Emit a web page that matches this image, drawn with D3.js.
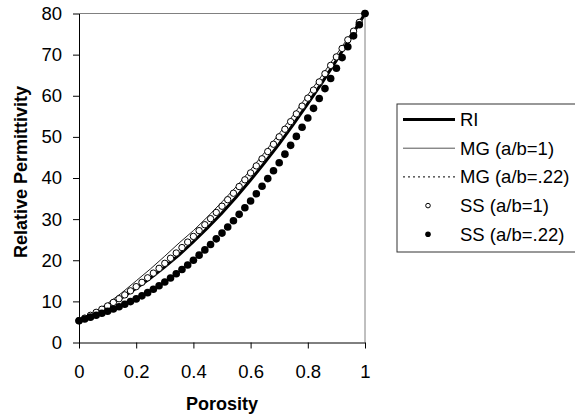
<!DOCTYPE html>
<html><head><meta charset="utf-8">
<script src="https://cdn.jsdelivr.net/npm/d3@7"></script>
<style>
body{margin:0;background:#fff;}
text{font-family:"Liberation Sans",Arial,sans-serif;}
</style></head>
<body><svg id="c" width="575" height="420"></svg>
<script>
// Data
const xTicks = [0, 0.2, 0.4, 0.6, 0.8, 1];
const xTickLabels = ["0", "0.2", "0.4", "0.6", "0.8", "1"];
const yTicks = [0, 10, 20, 30, 40, 50, 60, 70, 80];

// lines sampled every 0.05 porosity
const linePorosity = [0,0.05,0.1,0.15,0.2,0.25,0.3,0.35,0.4,0.45,0.5,0.55,0.6,0.65,0.7,0.75,0.8,0.85,0.9,0.95,1];
const RI = [5.3,6.9,8.8,10.9,13.2,15.7,18.4,21.3,24.5,27.9,31.5,35.4,39.5,43.8,48.3,53.1,58.1,63.2,68.6,74.2,80];
const MG1 = [5.3,7.2,9.5,12.1,15.0,17.9,21.0,24.2,27.2,30.6,34.2,37.9,42.0,46.3,50.8,55.4,60.2,65.0,70.0,75.0,80];
const MG022 = [5.3,6.9,8.8,10.8,13.1,15.6,18.3,21.2,24.4,27.8,31.4,35.3,39.4,43.7,48.2,53.0,58.0,63.1,68.5,74.1,80];

// markers sampled every 0.02 porosity
const markerPorosity = [0,0.02,0.04,0.06,0.08,0.1,0.12,0.14,0.16,0.18,0.2,0.22,0.24,0.26,0.28,0.3,0.32,0.34,0.36,0.38,0.4,0.42,0.44,0.46,0.48,0.5,0.52,0.54,0.56,0.58,0.6,0.62,0.64,0.66,0.68,0.7,0.72,0.74,0.76,0.78,0.8,0.82,0.84,0.86,0.88,0.9,0.92,0.94,0.96,0.98,1];
const SS1 = [5.3,5.93,6.61,7.33,8.09,8.89,9.75,10.65,11.58,12.56,13.58,14.63,15.73,16.87,18.03,19.25,20.49,21.76,23.08,24.42,25.79,27.2,28.64,30.11,31.62,33.14,34.72,36.3,37.92,39.56,41.24,42.94,44.67,46.43,48.21,50.02,51.85,53.7,55.59,57.49,59.42,61.38,63.36,65.36,67.38,69.44,71.5,73.6,75.7,77.85,80];
const SS022 = [5.3,5.72,6.16,6.62,7.1,7.6,8.14,8.71,9.31,9.94,10.6,11.34,12.12,12.94,13.8,14.7,15.68,16.7,17.76,18.86,20.0,21.24,22.52,23.84,25.2,26.6,28.08,29.6,31.16,32.76,34.4,36.18,38.0,39.86,41.76,43.7,45.8,47.94,50.12,52.34,54.6,56.94,59.32,61.74,64.2,66.7,69.28,71.9,74.56,77.26,80.0];

const legendLabels = ["RI", "MG (a/b=1)", "MG (a/b=.22)", "SS (a/b=1)", "SS (a/b=.22)"];

const svg = d3.select("#c");
const L = 79, R = 365, T = 13.5, B = 342.5;
const x = d3.scaleLinear().domain([0,1]).range([L,R]);
const y = d3.scaleLinear().domain([0,80]).range([B,T]);

// plot frame (top/right gray)
svg.append("path").attr("d",`M${L},${T}H${R}V${B}`).attr("fill","none").attr("stroke","#808080").attr("stroke-width",1);

const fs = "18.5px";
const xAxis = svg.append("g").attr("transform",`translate(0,${B})`)
  .call(d3.axisBottom(x).tickValues(xTicks).tickFormat((d,i)=>xTickLabels[i]).tickSize(6).tickPadding(16.5).tickSizeOuter(0));
const yAxis = svg.append("g").attr("transform",`translate(${L},0)`)
  .call(d3.axisLeft(y).tickValues(yTicks).tickSize(6).tickPadding(11).tickSizeOuter(0));
[xAxis,yAxis].forEach(g=>{
  g.selectAll("text").style("font-size",fs).attr("fill","#000").style("font-family","'Liberation Sans',Arial,sans-serif");
  g.selectAll("line").attr("stroke","#000");
  g.select(".domain").attr("stroke","#000");
});

svg.append("text").attr("x",222).attr("y",410).attr("text-anchor","middle")
  .style("font-size","18px").style("font-weight","bold").text("Porosity");
svg.append("text").attr("transform","translate(27,172) rotate(-90)").attr("text-anchor","middle")
  .style("font-size","18px").style("font-weight","bold").text("Relative Permittivity");

const line = d3.line().x(d=>x(d[0])).y(d=>y(d[1]));
const zip = (a,b)=>a.map((v,i)=>[v,b[i]]);

svg.append("path").datum(zip(linePorosity,MG022)).attr("d",line)
  .attr("fill","none").attr("stroke","#000").attr("stroke-width",1).attr("stroke-dasharray","2,3");
svg.append("path").datum(zip(linePorosity,MG1)).attr("d",line)
  .attr("fill","none").attr("stroke","#222").attr("stroke-width",1);
svg.append("path").datum(zip(linePorosity,RI)).attr("d",line)
  .attr("fill","none").attr("stroke","#000").attr("stroke-width",3);

svg.append("g").selectAll("circle").data(zip(markerPorosity,SS1)).join("circle")
  .attr("cx",d=>x(d[0])).attr("cy",d=>y(d[1])).attr("r",3.2)
  .attr("fill","#fff").attr("stroke","#000").attr("stroke-width",1);
svg.append("g").selectAll("circle").data(zip(markerPorosity,SS022)).join("circle")
  .attr("cx",d=>x(d[0])).attr("cy",d=>y(d[1])).attr("r",3.8)
  .attr("fill","#000");

// legend
const lg = svg.append("g");
lg.append("rect").attr("x",397).attr("y",104).attr("width",190).attr("height",148)
  .attr("fill","#fff").attr("stroke","#333").attr("stroke-width",1);
const rowY = i => 126 + i*28.7;
legendLabels.forEach((t,i)=>{
  const cy = rowY(i) - 6.5;
  if (i===0) lg.append("line").attr("x1",403).attr("x2",455).attr("y1",cy).attr("y2",cy).attr("stroke","#000").attr("stroke-width",3);
  if (i===1) lg.append("line").attr("x1",403).attr("x2",455).attr("y1",cy).attr("y2",cy).attr("stroke","#555").attr("stroke-width",1);
  if (i===2) lg.append("line").attr("x1",403).attr("x2",455).attr("y1",cy).attr("y2",cy).attr("stroke","#000").attr("stroke-width",1).attr("stroke-dasharray","2,3");
  if (i===3) lg.append("circle").attr("cx",428).attr("cy",cy).attr("r",2.3).attr("fill","#fff").attr("stroke","#000");
  if (i===4) lg.append("circle").attr("cx",428).attr("cy",cy).attr("r",2.8).attr("fill","#000");
  lg.append("text").attr("x",460).attr("y",rowY(i)).style("font-size",fs).attr("fill","#000").text(t);
});
</script></body></html>
